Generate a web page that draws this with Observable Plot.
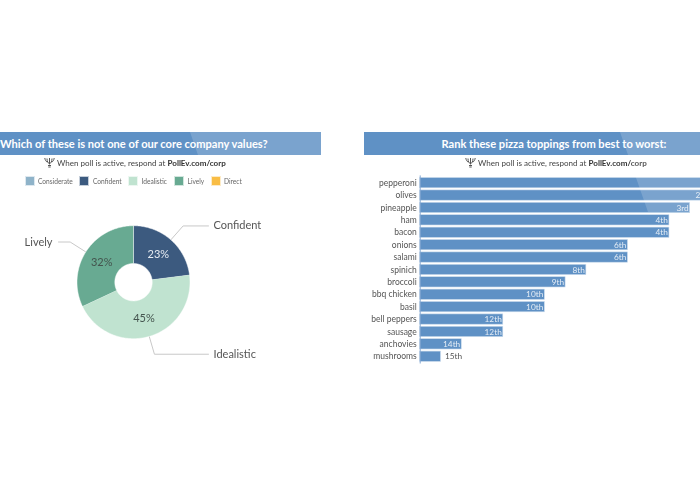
<!DOCTYPE html>
<html><head><meta charset="utf-8">
<script src="https://cdn.jsdelivr.net/npm/d3@7"></script>
<script src="https://cdn.jsdelivr.net/npm/@observablehq/plot@0.6"></script>
<style>
html,body{margin:0;padding:0;background:#fff;width:700px;height:500px;overflow:hidden;font-family:Lato,sans-serif;}
#page{position:relative;width:700px;height:500px;overflow:hidden;filter:blur(.4px);}
.band{position:absolute;top:132px;height:23px;background:#5f91c5;color:#fff;font-weight:700;font-size:11.1px;line-height:23px;white-space:nowrap;overflow:hidden;}
.sub{position:absolute;top:156px;font-size:8.05px;line-height:14px;color:#444;white-space:nowrap;}
.sub b{color:#333;}
.glare{position:absolute;background:rgba(255,255,255,.17);pointer-events:none;}
.lg{position:absolute;top:175.5px;width:10px;height:10px;box-sizing:border-box;border:.5px solid rgba(255,255,255,.7);}
.lt{position:absolute;top:176px;font-size:6.6px;line-height:10px;color:#666;white-space:nowrap;}
.plot{position:absolute;}
</style></head><body><div id="page"></div>
<script>
const pollTitles = ["Which of these is not one of our core company values?", "Rank these pizza toppings from best to worst:"];
const pollNote = "When poll is active, respond at ";
const pollUrl = "PollEv.com/corp";
const optionNames = ["Considerate", "Confident", "Idealistic", "Lively", "Direct"];
const optionColors = ["#8fb3c9", "#3c5a7f", "#c0e3d0", "#68aa92", "#f9bd45"];
const optionShares = [0, 23, 45, 32, 0];
const toppings = ["pepperoni","olives","pineapple","ham","bacon","onions","salami","spinich","broccoli","bbq chicken","basil","bell peppers","sausage","anchovies","mushrooms"];
const rankLabels = ["1st","2nd","3rd","4th","4th","6th","6th","8th","9th","10th","10th","12th","12th","14th","15th"];
const rankScores = [15,14,13,12,12,10,10,8,7,6,6,4,4,2,1];

const page = document.getElementById("page");
function el(tag, cls, style, html){const e=document.createElement(tag);e.className=cls;Object.assign(e.style,style);if(html!=null)e.innerHTML=html;page.appendChild(e);return e;}
const icon = `<svg width="11" height="12" viewBox="0 0 11 12" style="position:absolute;left:-13px;top:0" fill="none" stroke="#555" stroke-width="1"><path d="M5.5 2v6M3 2.5c0 3 1 4.5 2.5 5.5c1.500-1 2.500-2.500 2.500-5.500M.8 2c.3 2 1 3.200 2.200 4M10.200 2c-.3 2-1 3.200-2.200 4M4 9.500h3M4.300 11h2.400"/></svg>`;

el("div","band",{left:"0",width:"321px"},`<span style="position:absolute;left:0">${pollTitles[0]}</span>`);
el("div","band",{left:"364px",width:"336px"},`<span style="position:absolute;left:77.500px">${pollTitles[1]}</span>`);
el("div","glare",{left:"190px",top:"132px",width:"131px",height:"23px",clipPath:"polygon(0 0,100% 0,100% 100%,8px 100%)"});
el("div","sub",{left:"57px"},icon+pollNote+`<b>${pollUrl}</b>`);
el("div","sub",{left:"478px"},icon+pollNote+`<b>${pollUrl}</b>`);

const swatchLeft=[25,79,128,174,211], textLeft=[38,93,141.500,187.500,224];
optionNames.forEach((n,i)=>{
  el("div","lg",{left:swatchLeft[i]+"px",background:optionColors[i]});
  el("div","lt",{left:textLeft[i]+"px"},n);
});

// ---- donut: 1 scale unit = 1 pixel, centred on 0,0
const R=56.5, r0=18.7, elbowR=75, pctR=37.6, textX=80;
const tau=Math.PI*2;
const shown=optionNames.map((name,i)=>({name,share:optionShares[i]})).filter(d=>d.share>0);
let acc=0;
shown.forEach(d=>{d.a0=acc/100*tau;acc+=d.share;d.a1=acc/100*tau;d.mid=(d.a0+d.a1)/2;});
const px=(rad,a)=>rad*Math.sin(a), py=(rad,a)=>-rad*Math.cos(a);
const poly=[];
shown.forEach(d=>{
  const n=Math.ceil((d.a1-d.a0)/tau*360);
  for(let k=0;k<=n;k++){const a=d.a0+(d.a1-d.a0)*k/n;poly.push({name:d.name,x:px(R,a),y:py(R,a)});}
  for(let k=n;k>=0;k--){const a=d.a0+(d.a1-d.a0)*k/n;poly.push({name:d.name,x:px(r0,a),y:py(r0,a)});}
});
const leaders=[];
shown.forEach(d=>{
  const ex=px(elbowR,d.mid), ey=py(elbowR,d.mid), left=Math.sin(d.mid)<0;
  leaders.push({name:d.name,x:px(R,d.mid),y:py(R,d.mid)},{name:d.name,x:ex,y:ey},{name:d.name,x:left?-75:75,y:ey});
  d.lx=left?-81:textX; d.ly=ey; d.anchor=left?"end":"start";
});
const pie=Plot.plot({
  width:340,height:170,margin:0,
  style:{background:"transparent",fontFamily:"Lato,sans-serif"},
  x:{domain:[-133,207],range:[0,340],axis:null},
  y:{domain:[-81.700,88.300],range:[0,170],axis:null},
  color:{domain:optionNames,range:optionColors},
  marks:[
    Plot.line(leaders,{x:"x",y:"y",z:"name",stroke:"#c8c8c8",strokeWidth:1,curve:"linear"}),
    Plot.line(poly,{x:"x",y:"y",z:"name",fill:"name",stroke:"#fff",strokeWidth:.5,curve:"linear"}),
    Plot.text(shown,{x:d=>px(pctR,d.mid),y:d=>py(pctR,d.mid),text:d=>d.share+"%",fontSize:11,fill:d=>d.name==="Confident"?"#e6ebf2":"#44544e"}),
    Plot.text(shown.filter(d=>d.anchor==="start"),{x:"lx",y:"ly",text:"name",textAnchor:"start",fontSize:11,fill:"#555"}),
    Plot.text(shown.filter(d=>d.anchor==="end"),{x:"lx",y:"ly",text:"name",textAnchor:"end",fontSize:11,fill:"#555"})
  ]
});
pie.classList.add("plot");pie.style.left="0";pie.style.top="200px";page.appendChild(pie);

// ---- ranking bars (the scale runs past the page edge, as in the reference)
const rows=toppings.map((t,i)=>({t,rank:rankLabels[i],score:rankScores[i]}));
const bars=Plot.plot({
  width:400,height:194,marginTop:5.400,marginBottom:0.500,marginLeft:69.700,marginRight:18.750,
  style:{background:"transparent",fontFamily:"Lato,sans-serif",color:"#555"},
  x:{domain:[0,15],axis:null},
  y:{domain:toppings,padding:.17,align:.5,round:false,label:null},
  marks:[
    Plot.barX(rows,{y:"t",x:"score",fill:"#5f91c5",stroke:"#c9daec",strokeWidth:.6}),
    Plot.ruleX([0],{stroke:"#86a9d2",strokeWidth:1}),
    Plot.axisY({tickSize:0,tickPadding:3.500,fontSize:8.500,label:null,fill:"#555"}),
    Plot.text(rows.filter(d=>d.score>1&&d.score<15),{y:"t",x:"score",text:"rank",textAnchor:"end",dx:-1.500,fontSize:8.300,fill:"#e4ecf5"}),
    Plot.text(rows.filter(d=>d.score<=1),{y:"t",x:"score",text:"rank",textAnchor:"start",dx:4,fontSize:8.300,fill:"#555"})
  ]
});
bars.classList.add("plot");bars.style.left="350px";bars.style.top="170px";page.appendChild(bars);
el("div","glare",{left:"620px",top:"132px",width:"80px",height:"80px",clipPath:"polygon(0 0,100% 0,100% 100%,28px 100%)"});
</script></body></html>
